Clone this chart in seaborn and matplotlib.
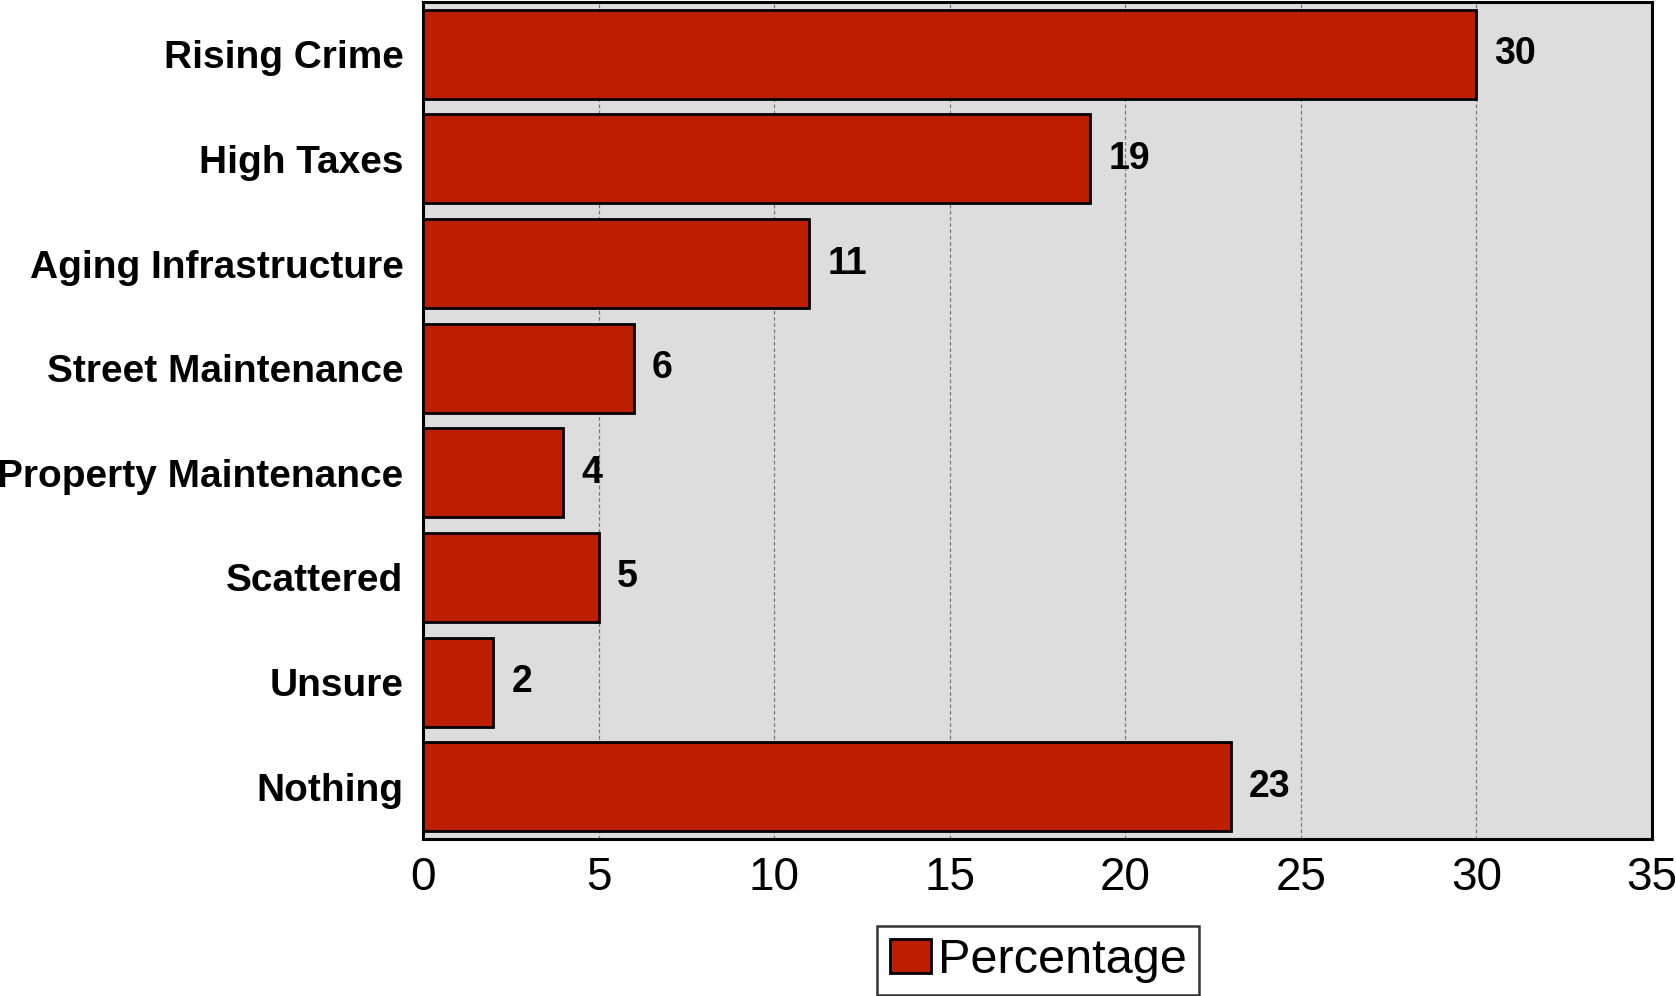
import matplotlib
matplotlib.use("Agg")
import matplotlib.pyplot as plt
import seaborn as sns
import pandas as pd
from matplotlib.patches import Patch

categories = ["Rising Crime", "High Taxes", "Aging Infrastructure", "Street Maintenance",
              "Property Maintenance", "Scattered", "Unsure", "Nothing"]
values = [30, 19, 11, 6, 4, 5, 2, 23]
x_ticks = [0, 5, 10, 15, 20, 25, 30, 35]
series_name = "Percentage"

sns.set_theme(style="white")
plt.rcParams['font.family'] = ['Liberation Sans', 'DejaVu Sans']
plt.rcParams['text.color'] = 'black'
plt.rcParams['xtick.color'] = 'black'
plt.rcParams['ytick.color'] = 'black'

df = pd.DataFrame({"category": categories, "value": values})

fig = plt.figure(figsize=(16.76, 9.96), dpi=100)
ax = fig.add_axes([0.2524, 0.1576, 0.9857 - 0.2524, 0.998 - 0.1576])
ax.set_facecolor("#DDDDDD")

bar_color = "#BE1E00"
sns.barplot(data=df, x="value", y="category", orient="h", color=bar_color,
            width=0.85, edgecolor="black", linewidth=2, saturation=1, ax=ax)

ax.set_xlim(0, 35)
ax.set_ylim(7.5, -0.5)
ax.set_xticks(x_ticks)
ax.set_xticklabels([str(t) for t in x_ticks], fontsize=33, color="black")
ax.tick_params(axis="x", length=0, pad=12)
ax.tick_params(axis="y", length=0, pad=14)
for lbl in ax.get_yticklabels():
    lbl.set_fontsize(28)
    lbl.set_fontweight("bold")
    lbl.set_color("black")
ax.set_xlabel("")
ax.set_ylabel("")
ax.xaxis.grid(True, linestyle=(0, (3, 2)), color="#777777", linewidth=0.9)
ax.set_axisbelow(True)
for s in ax.spines.values():
    s.set_visible(True)
    s.set_color("black")
    s.set_linewidth(2.2)

ax.bar_label(ax.containers[0], labels=[str(v) for v in values], padding=13,
             fontsize=27, fontweight="bold", color="black")

handle = Patch(facecolor=bar_color, edgecolor="black", linewidth=2)
leg = fig.legend([handle], [series_name], loc="upper center",
                 bbox_to_anchor=(0.6195, 0.0705), fontsize=35, frameon=True,
                 fancybox=False, edgecolor="black", handlelength=0.85,
                 handleheight=0.7, handletextpad=0.15, borderpad=0.25,
                 borderaxespad=0)
leg.get_frame().set_linewidth(1.8)

fig.savefig("out.png", dpi=100)
